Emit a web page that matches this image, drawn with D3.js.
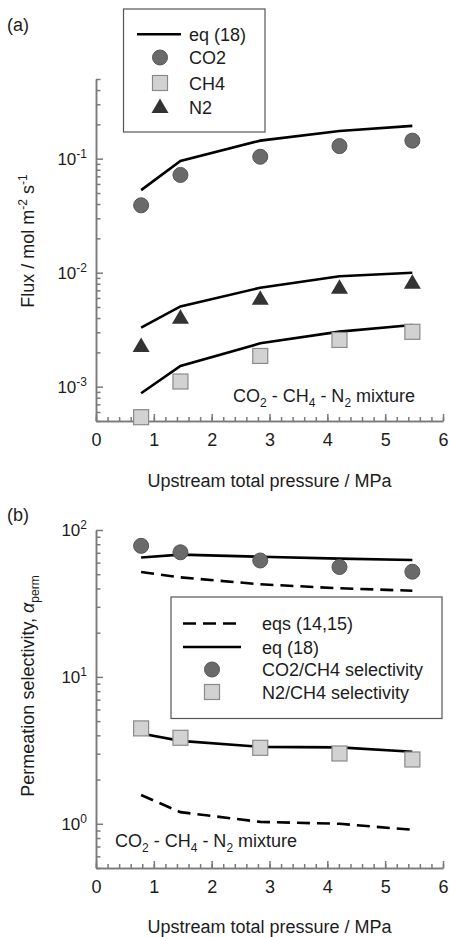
<!DOCTYPE html>
<html>
<head>
<meta charset="utf-8">
<script src="https://cdn.jsdelivr.net/npm/d3@7"></script>
<style>
	body { margin: 0; background: #fff; }
	text { font-family: "Liberation Sans", Arial, sans-serif; fill: #1c1c1c; }
</style>
</head>
<body>
<div id="chart"></div>
<script>
// upstream total pressure (MPa) of the five measurements
const pressure = [0.78, 1.46, 2.84, 4.21, 5.47]

// panel (a): fluxes, mol m-2 s-1
const co2Flux = [0.039, 0.072, 0.104, 0.129, 0.144]
const ch4Flux = [0.00054, 0.00111, 0.00186, 0.00257, 0.00303]
const n2Flux = [0.00227, 0.00403, 0.0059, 0.00738, 0.00817]
const co2FluxEq18 = [0.053, 0.0955, 0.144, 0.175, 0.194]
const ch4FluxEq18 = [0.000875, 0.00152, 0.0024, 0.00304, 0.00348]
const n2FluxEq18 = [0.0033, 0.00506, 0.00738, 0.0093, 0.01]

// panel (b): permeation selectivities
const co2ch4Sel = [78, 70.5, 62, 56, 52]
const n2ch4Sel = [4.46, 3.85, 3.29, 3.01, 2.74]
const co2ch4Eq18 = [65, 68, 65.8, 63.8, 62.5]
const n2ch4Eq18 = [4.12, 3.67, 3.34, 3.31, 3.09]
const co2ch4Eq1415 = [51.8, 47.6, 42.7, 40.1, 38.6]
const n2ch4Eq1415 = [1.57, 1.2, 1.03, 1.0, 0.91]

const xTicks = [0, 1, 2, 3, 4, 5, 6]

const AXIS_COLOR = '#7a7a7a'
const CIRCLE_FILL = '#6a6a6a'
const SQUARE_FILL = '#d2d2d2'
const TRIANGLE_FILL = '#333'

const svg = d3.select('#chart').append('svg').attr('width', 450).attr('height', 937)

const x = d3.scaleLinear().domain([0, 6]).range([96, 443])

const zip = ys => pressure.map((p, i) => [p, ys[i]])

// subscripted/superscripted text helper: parts = [[text, 'sub'|'sup'|null], ...]
function richText(sel, parts, small = 12) {
	let shift = 0
	parts.forEach(([t, kind, italic]) => {
		const target = kind === 'sub' ? 5 : kind === 'sup' ? -7 : 0
		const ts = sel.append('tspan').attr('dy', target - shift).text(t)
		if (kind) ts.attr('font-size', small)
		if (italic) ts.attr('font-style', 'italic')
		shift = target
	})
}

function drawPanel(cfg) {
	const y = d3.scaleLog().domain(cfg.yDomain).range(cfg.yRange)
	const g = svg.append('g')
	const y0 = cfg.yRange[0]

	// x axis: minor ticks every 0.2, major at integers, all pointing up
	g.append('g')
		.attr('transform', `translate(0,${y0})`)
		.call(d3.axisBottom(x).tickValues(d3.range(0, 6.01, 0.2)).tickSize(-4).tickSizeOuter(0).tickFormat(''))
	g.append('g')
		.attr('transform', `translate(0,${y0})`)
		.call(d3.axisBottom(x).tickValues(xTicks).tickSize(-7).tickSizeOuter(0).tickPadding(12).tickFormat(d3.format('d')))
		.call(a => a.selectAll('text').attr('font-size', 18).style('font-family', '"Liberation Sans", Arial, sans-serif').attr('fill', '#1c1c1c'))

	// y axis: minor ticks 2..9 per decade, major at powers of ten, pointing right
	const [lo, hi] = cfg.yDomain
	const minor = []
	for (let e = Math.floor(Math.log10(lo)); e <= Math.ceil(Math.log10(hi)); e++) {
		for (let m = 2; m <= 9; m++) {
			const v = m * Math.pow(10, e)
			if (v >= lo * 0.999 && v <= hi * 1.001) minor.push(v)
		}
	}
	const major = cfg.majors.map(e => Math.pow(10, e))
	g.append('g')
		.attr('transform', 'translate(96,0)')
		.call(d3.axisLeft(y).tickValues(minor).tickSize(-4.5).tickSizeOuter(0).tickFormat(''))
	g.append('g')
		.attr('transform', 'translate(96,0)')
		.call(d3.axisLeft(y).tickValues(major).tickSize(-7).tickSizeOuter(0).tickFormat(''))

	g.selectAll('.domain, .tick line').attr('stroke', AXIS_COLOR).attr('stroke-width', 1.5)

	cfg.majors.forEach(e => {
		const t = g.append('text')
			.attr('x', 87)
			.attr('y', y(Math.pow(10, e)) + 6)
			.attr('text-anchor', 'end')
			.attr('font-size', 17)
		t.append('tspan').text('10')
		t.append('tspan').attr('dy', -7).attr('font-size', 12).text(String(e).replace('-', '-'))
	})

	// model curves
	const line = d3.line().x(d => x(d[0])).y(d => y(d[1]))
	cfg.lines.forEach(l => {
		g.append('path')
			.attr('d', line(zip(l.values)))
			.attr('fill', 'none')
			.attr('stroke', '#000')
			.attr('stroke-width', 2.6)
			.attr('stroke-dasharray', l.dashed ? '13,7' : null)
	})

	// measured points
	cfg.points.forEach(s => {
		zip(s.values).forEach(([px, py]) => drawMarker(g, s.shape, x(px), y(py)))
	})

	// panel tag, axis titles, mixture label
	svg.append('text').attr('x', 7).attr('y', cfg.tagY).attr('font-size', 18).text(cfg.tag)
	svg.append('text')
		.attr('x', 269.5)
		.attr('y', cfg.xTitleY)
		.attr('text-anchor', 'middle')
		.attr('font-size', 18)
		.text('Upstream total pressure / MPa')
	const yt = svg.append('text')
		.attr('transform', `translate(34,${cfg.yTitleY}) rotate(-90)`)
		.attr('text-anchor', 'middle')
		.attr('font-size', 18)
	richText(yt, cfg.yTitle)
	const mix = svg.append('text').attr('x', cfg.mixX).attr('y', cfg.mixY).attr('font-size', 18)
	richText(mix, [['CO'], ['2', 'sub'], [' - CH'], ['4', 'sub'], [' - N'], ['2', 'sub'], [' mixture']])

	return g
}

function drawMarker(g, shape, cx, cy) {
	if (shape === 'circle') {
		g.append('circle').attr('cx', cx).attr('cy', cy).attr('r', 7.5)
			.attr('fill', CIRCLE_FILL).attr('stroke', '#555').attr('stroke-width', 1)
	} else if (shape === 'square') {
		g.append('rect').attr('x', cx - 7.5).attr('y', cy - 7.5).attr('width', 15).attr('height', 15)
			.attr('fill', SQUARE_FILL).attr('stroke', '#8a8a8a').attr('stroke-width', 1.2)
	} else if (shape === 'triangle') {
		g.append('path')
			.attr('d', `M${cx},${cy - 8.5}L${cx + 8.5},${cy + 6}L${cx - 8.5},${cy + 6}Z`)
			.attr('fill', TRIANGLE_FILL)
	}
}

function legend(x0, y0, w, h, items, textX) {
	const lg = svg.append('g')
	lg.append('rect').attr('x', x0).attr('y', y0).attr('width', w).attr('height', h)
		.attr('fill', '#fff').attr('stroke', '#555').attr('stroke-width', 1.2)
	items.forEach(it => {
		if (it.line) {
			lg.append('line').attr('x1', it.x1).attr('x2', it.x2).attr('y1', it.y).attr('y2', it.y)
				.attr('stroke', '#000').attr('stroke-width', 2.6)
				.attr('stroke-dasharray', it.dashed ? '13,7' : null)
		} else {
			drawMarker(lg, it.shape, it.mx, it.y)
		}
		lg.append('text').attr('x', textX).attr('y', it.y + 6.5).attr('font-size', 18).text(it.label)
	})
}

// panel (a)
drawPanel({
	yDomain: [5e-4, 0.5],
	yRange: [421, 79],
	majors: [-3, -2, -1],
	lines: [{values: co2FluxEq18}, {values: n2FluxEq18}, {values: ch4FluxEq18}],
	points: [
		{shape: 'circle', values: co2Flux},
		{shape: 'triangle', values: n2Flux},
		{shape: 'square', values: ch4Flux}
	],
	tag: '(a)',
	tagY: 31,
	xTitleY: 487,
	yTitleY: 241,
	yTitle: [['Flux / mol m'], ['-2', 'sup'], [' s'], ['-1', 'sup']],
	mixX: 233,
	mixY: 402
})

legend(123.5, 9, 141.5, 123, [
	{line: true, x1: 137, x2: 181, y: 34.3, label: 'eq (18)'},
	{shape: 'circle', mx: 160, y: 57.5, label: 'CO2'},
	{shape: 'square', mx: 160, y: 83, label: 'CH4'},
	{shape: 'triangle', mx: 160, y: 107, label: 'N2'}
], 189)

// panel (b)
drawPanel({
	yDomain: [0.5, 100],
	yRange: [868, 530],
	majors: [0, 1, 2],
	lines: [
		{values: co2ch4Eq18}, {values: n2ch4Eq18},
		{values: co2ch4Eq1415, dashed: true}, {values: n2ch4Eq1415, dashed: true}
	],
	points: [
		{shape: 'circle', values: co2ch4Sel},
		{shape: 'square', values: n2ch4Sel}
	],
	tag: '(b)',
	tagY: 521,
	xTitleY: 933,
	yTitleY: 686,
	yTitle: [['Permeation selectivity, '], ['α', null, true], ['perm', 'sub']],
	mixX: 115,
	mixY: 847
})

legend(171, 597, 271, 121.5, [
	{line: true, dashed: true, x1: 183, x2: 241, y: 623.5, label: 'eqs (14,15)'},
	{line: true, x1: 183, x2: 241, y: 647, label: 'eq (18)'},
	{shape: 'circle', mx: 212, y: 669.5, label: 'CO2/CH4 selectivity'},
	{shape: 'square', mx: 212, y: 692, label: 'N2/CH4 selectivity'}
], 262)
</script>
</body>
</html>
